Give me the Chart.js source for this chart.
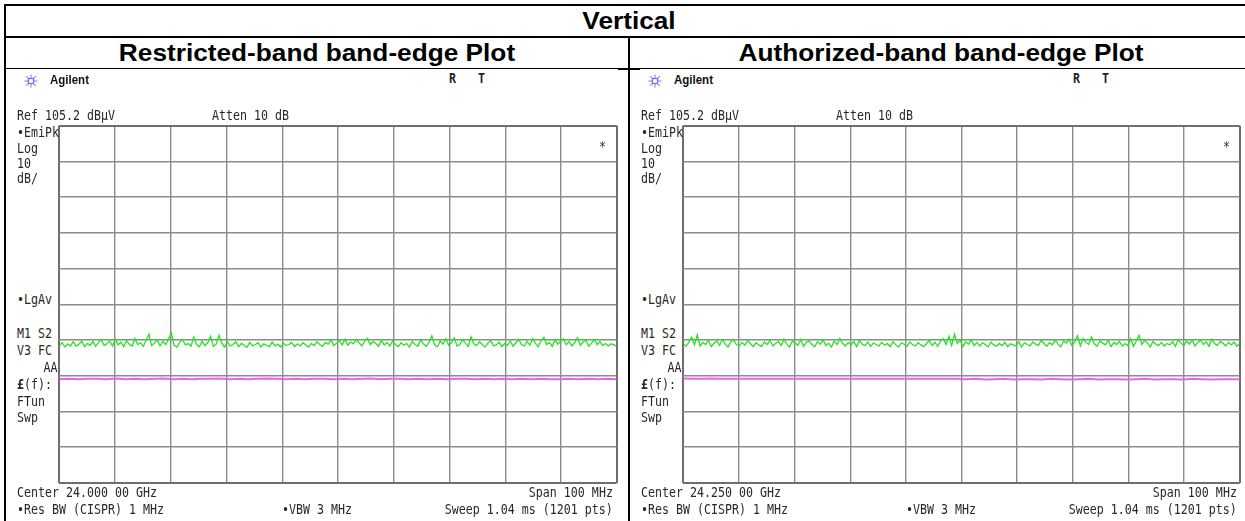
<!DOCTYPE html>
<html>
<head>
<meta charset="utf-8">
<script src="https://cdn.jsdelivr.net/npm/chart.js@4.4.0/dist/chart.umd.min.js"></script>
<style>
body { margin:0; background:#fff; width:1245px; height:521px; overflow:hidden; position:relative; }
.ln { position:absolute; background:#000; }
.hd { position:absolute; width:600px; text-align:center; font:bold 23px "Liberation Sans", Arial, sans-serif; line-height:23px; color:#000; transform:scaleX(1.14); white-space:nowrap; }
.t { position:absolute; font-family:"DejaVu Sans Mono", monospace; font-size:13.7px; line-height:13.7px; color:#282828; white-space:nowrap; transform:scaleX(0.85); transform-origin:0 0; }
.t.r { transform-origin:100% 0; text-align:right; }
.t.b { font-weight:bold; color:#222; }
.brand { position:absolute; font:bold 12.5px "Liberation Sans", Arial, sans-serif; line-height:12.5px; color:#111; transform:scaleX(0.92); transform-origin:0 0; }
canvas { position:absolute; }
</style>
</head>
<body>
<div class="ln" style="left:4px;top:4px;width:1241px;height:2px"></div>
<div class="ln" style="left:4px;top:4px;width:2px;height:517px"></div>
<div class="ln" style="left:4px;top:35.5px;width:1241px;height:2px"></div>
<div class="ln" style="left:4px;top:68px;width:1241px;height:1.3px"></div>
<div class="ln" style="left:618px;top:68px;width:22px;height:2px"></div>
<div class="ln" style="left:628px;top:36px;width:2px;height:485px"></div>

<div class="hd" style="left:329px;top:9.8px">Vertical</div>
<div class="hd" style="left:17px;top:42.2px">Restricted-band band-edge Plot</div>
<div class="hd" style="left:641px;top:42.2px">Authorized-band band-edge Plot</div>

<canvas id="leftPlot" width="568" height="367" style="left:54px;top:121px;width:568px;height:367px"></canvas>
<canvas id="rightPlot" width="567" height="367" style="left:678px;top:121px;width:567px;height:367px"></canvas>

<script>
// Instrument settings
const centers = [24000, 24250];          // MHz
const centerLabels = ["Center 24.000 00 GHz", "Center 24.250 00 GHz"];
const spanMHz = 100;
const refLevel = 105.2;                 // dBµV, top of screen
const dbPerDiv = 10;

// Peak trace (green), restricted-band plot
const greenLeft = [
  43.6,44.4,43.2,44.1,43.5,44.7,43.4,44.0,44.9,43.3,
  44.2,43.7,44.8,43.4,44.5,45.3,43.6,44.1,44.9,43.5,
  45.4,43.8,44.6,43.3,45.0,44.0,43.5,45.6,43.9,44.4,
  43.4,45.1,46.8,43.6,44.3,45.2,43.5,44.8,43.9,45.5,
  47.1,43.7,43.2,44.6,45.3,43.8,44.2,43.4,46.0,43.9,
  43.3,44.8,43.6,44.4,46.2,43.4,44.0,46.5,44.3,43.2,
  44.6,43.5,43.9,44.7,43.3,44.2,43.7,43.1,44.5,43.6,
  43.9,44.4,43.2,44.1,43.7,43.3,44.6,43.5,44.0,43.2,
  44.3,43.6,43.9,44.5,43.3,44.1,43.5,44.4,43.8,43.2,
  44.2,43.6,44.7,43.9,43.4,44.5,44.0,45.2,43.6,44.3,
  45.0,43.8,45.4,43.7,44.6,44.1,45.3,44.4,43.5,44.8,
  45.6,43.9,44.7,44.2,43.4,45.1,43.8,44.5,43.5,44.9,
  43.9,43.3,44.4,43.7,44.2,43.2,44.8,43.9,43.4,45.2,
  44.1,43.4,44.5,46.3,43.8,43.3,44.9,44.0,45.5,43.7,
  44.4,45.8,43.5,44.0,45.2,44.3,43.4,46.1,44.1,43.6,
  44.7,43.9,43.2,44.3,45.0,43.5,43.8,44.6,43.3,44.2,
  43.7,44.9,43.4,44.4,45.4,43.9,43.5,44.8,43.7,45.6,
  44.2,43.3,45.0,45.9,43.9,44.5,43.4,45.3,44.0,44.8,
  45.5,43.8,44.7,43.5,44.4,45.8,43.7,44.6,45.1,43.4,
  44.3,45.3,43.9,44.8,43.6,44.2,43.5,44.1,43.8,43.4
];

// Peak trace (green), authorized-band plot
const greenRight = [
  44.1,43.4,44.6,46.0,43.8,46.6,43.5,44.5,43.9,45.1,
  43.3,44.3,44.9,43.7,45.3,44.0,43.2,44.7,45.2,43.9,
  43.5,44.5,43.7,45.0,44.2,43.3,44.4,43.8,43.4,44.6,
  43.9,45.1,43.5,44.2,44.8,43.6,45.4,44.1,43.2,44.9,
  44.3,43.7,45.3,43.4,44.5,45.0,43.9,43.3,44.7,44.0,
  45.2,43.6,44.3,43.2,44.9,43.9,45.6,44.2,43.5,44.5,
  43.8,44.8,43.3,45.1,44.0,43.6,44.6,43.4,44.3,43.9,
  43.5,44.5,43.7,44.2,43.3,44.7,43.8,43.2,44.4,44.0,
  43.4,44.6,43.9,43.5,44.4,43.8,43.3,44.2,45.0,43.6,
  44.5,43.4,44.9,45.5,43.9,46.2,43.6,46.8,44.2,45.2,
  43.3,44.7,44.0,45.3,43.6,44.5,43.5,44.4,43.9,43.2,
  44.6,43.8,43.4,44.2,43.6,44.5,43.3,44.1,43.8,43.5,
  44.7,43.2,44.4,43.9,43.5,44.6,44.0,43.6,45.1,44.2,
  43.4,44.5,43.8,45.2,44.0,43.3,44.9,44.3,45.4,43.6,
  44.6,46.4,43.5,45.6,44.5,43.9,46.0,44.1,43.4,44.9,
  44.3,43.8,45.1,43.3,44.5,43.9,44.8,43.5,44.2,43.6,
  45.5,43.4,44.9,46.5,43.9,45.1,44.3,43.3,44.8,44.0,
  43.6,44.5,43.5,44.2,43.8,44.7,43.4,45.3,44.3,43.6,
  44.9,44.0,45.2,43.5,44.5,45.1,43.9,44.7,43.4,45.4,
  44.2,43.6,44.8,44.3,43.5,44.5,43.8,44.6,43.4,44.1
];

// Average trace (magenta)
const magentaLeft = [
  34.2,34.3,34.2,34.3,34.3,34.2,34.4,34.2,34.3,34.2,
  34.3,34.4,34.2,34.3,34.2,34.3,34.3,34.4,34.2,34.3,
  34.2,34.3,34.4,34.3,34.2,34.3,34.2,34.3,34.3,34.2,
  34.3,34.2,34.3,34.4,34.2,34.3,34.3,34.2,34.3,34.2,
  34.3,34.2,34.3,34.3,34.2,34.3,34.2,34.3,34.2,34.3,
  34.2,34.3,34.2,34.2,34.3,34.2,34.3,34.2,34.3,34.2
];
const magentaRight = [
  34.4,34.3,34.3,34.4,34.3,34.3,34.3,34.3,34.3,34.3,
  34.3,34.3,34.3,34.3,34.3,34.3,34.3,34.3,34.3,34.3,
  34.3,34.3,34.3,34.3,34.3,34.3,34.3,34.3,34.3,34.3,
  34.2,34.3,34.1,34.2,34.3,34.1,34.2,34.2,34.1,34.3,
  34.2,34.1,34.2,34.3,34.1,34.2,34.2,34.1,34.2,34.3,
  34.1,34.2,34.2,34.1,34.3,34.2,34.1,34.2,34.2,34.2
];

// annotation text of one analyzer screen: [x, baseline, text, flags]
function screenText(center) {
  return [
    [449, 84, "R", "b"], [478, 84, "T", "b"],
    [17, 121, "Ref 105.2 dBµV"], [211.7, 121, "Atten 10 dB"],
    [17, 137.7, "•EmiPk"], [17, 153.3, "Log"], [17, 169, "10"], [17, 184, "dB/"],
    [17, 305, "•LgAv"],
    [17, 338.3, "M1 S2"], [17, 356, "V3 FC"], [57.5, 372.7, "AA", "r"],
    [17, 390, "<b>£</b>(f):"], [17, 406.7, "FTun"], [17, 422.5, "Swp"],
    [17, 497.3, center], [612.7, 497.3, "Span 100 MHz", "r"],
    [17, 515, "•Res BW (CISPR) 1 MHz"], [281.7, 515, "•VBW 3 MHz"],
    [612.7, 515, "Sweep 1.04 ms (1201 pts)", "r"],
    [598.5, 152, "*"]
  ];
}

function addText(dx, items) {
  for (const [x, base, s, flags] of items) {
    const d = document.createElement("div");
    d.className = "t" + (flags === "r" ? " r" : "") + (flags === "b" ? " b" : "");
    d.innerHTML = s;
    d.style.top = (base - 11.6) + "px";
    if (flags === "r") d.style.right = (1245 - x - dx) + "px";
    else d.style.left = (x + dx) + "px";
    document.body.appendChild(d);
  }
  const logo = document.createElementNS("http://www.w3.org/2000/svg", "svg");
  logo.setAttribute("width", "14");
  logo.setAttribute("height", "14");
  logo.style.position = "absolute";
  logo.style.left = (24 + dx) + "px";
  logo.style.top = "74px";
  logo.innerHTML = '<g stroke="#8a8aff" stroke-width="1.2" fill="none">' +
    '<line x1="7" y1="0.5" x2="7" y2="13.5"/><line x1="0.5" y1="7" x2="13.5" y2="7"/>' +
    '<line x1="2.2" y1="2.2" x2="11.8" y2="11.8"/><line x1="11.8" y1="2.2" x2="2.2" y2="11.8"/></g>' +
    '<rect x="4.5" y="4.5" width="5" height="5" fill="#fff" stroke="#6a6aff" stroke-width="1.2"/>';
  document.body.appendChild(logo);
  const b = document.createElement("div");
  b.className = "brand";
  b.textContent = "Agilent";
  b.style.left = (50 + dx) + "px";
  b.style.top = "74.4px";
  document.body.appendChild(b);
}

function toXY(values, center) {
  const n = values.length;
  return values.map((v, i) => ({ x: center - spanMHz / 2 + i * spanMHz / (n - 1), y: v }));
}

function gridStyle() {
  return {
    drawTicks: false,
    color: c => (c.index === 0 || c.index === 10) ? "#6e6e6e" : "#8c8c8c",
    lineWidth: c => (c.index === 0 || c.index === 10) ? 2 : 1.4
  };
}

function makeChart(id, green, magenta, center, padRight) {
  return new Chart(document.getElementById(id), {
    type: "line",
    data: {
      datasets: [
        { data: toXY(green, center), borderColor: "#1ee81e", borderWidth: 1.3, pointRadius: 0, tension: 0 },
        { data: toXY(magenta, center), borderColor: "#f060f0", borderWidth: 2, pointRadius: 0, tension: 0 }
      ]
    },
    options: {
      responsive: false,
      animation: false,
      events: [],
      layout: { padding: { left: 5.3, top: 4.7, right: padRight, bottom: 5.3 } },
      plugins: { legend: { display: false }, tooltip: { enabled: false } },
      scales: {
        x: {
          type: "linear",
          min: center - spanMHz / 2, max: center + spanMHz / 2,
          ticks: { display: false, stepSize: spanMHz / 10 },
          grid: gridStyle(),
          border: { display: false }
        },
        y: {
          min: refLevel - 10 * dbPerDiv, max: refLevel,
          ticks: { display: false, stepSize: dbPerDiv },
          grid: gridStyle(),
          border: { display: false }
        }
      }
    }
  });
}

addText(0, screenText(centerLabels[0]));
addText(624, screenText(centerLabels[1]));
makeChart("leftPlot", greenLeft, magentaLeft, centers[0], 5.3);
makeChart("rightPlot", greenRight, magentaRight, centers[1], 5.3);
</script>
</body>
</html>
